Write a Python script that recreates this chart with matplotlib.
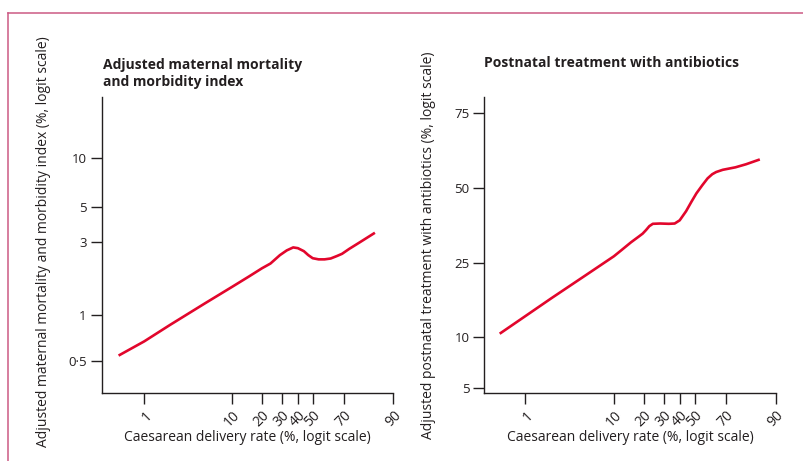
import matplotlib
matplotlib.use("Agg")
import matplotlib.pyplot as plt
from matplotlib.ticker import FixedLocator, NullLocator, FixedFormatter
from matplotlib.lines import Line2D

plt.rcParams['font.family'] = ['Open Sans', 'DejaVu Sans']

# data (percent)
rate_x = [1, 10, 20, 30, 40, 50, 70, 90]
rate_labels = ['1', '10', '20', '30', '40', '50', '70', '90']

mmi_x = [0.5, 1, 2, 5, 10, 15, 20, 24, 29, 33, 37, 40, 44, 47, 50, 54,
         58, 62, 66, 69, 73, 78, 84.5]
mmi_y = [0.54, 0.67, 0.86, 1.19, 1.53, 1.79, 2.02, 2.17, 2.46, 2.64, 2.76,
         2.73, 2.61, 2.46, 2.35, 2.31, 2.31, 2.34, 2.43, 2.51, 2.70, 2.96, 3.43]
mmi_ticks = [0.5, 1, 3, 5, 10]
mmi_labels = ['0\u00b75', '1', '3', '5', '10']

abx_x = [0.5, 1, 2, 5, 10, 12, 15, 18, 19.5, 21, 22.5, 24.2, 28, 33, 36.6,
         39.8, 44, 47.7, 51, 55, 58.5, 61.5, 64, 68, 75, 80, 85.3]
abx_y = [10.5, 13.2, 16.5, 21.8, 26.8, 28.6, 31.0, 32.9, 33.8, 35.0, 36.3,
         37.1, 37.2, 37.1, 37.2, 38.3, 41.5, 45.0, 48.0, 51.0, 53.5, 55.0,
         55.8, 56.6, 57.5, 58.6, 60.3]
abx_ticks = [5, 10, 25, 50, 75]
abx_labels = ['5', '10', '25', '50', '75']

RED = '#E2062C'
INK = '#231F20'
W, H = 804, 461

fig = plt.figure(figsize=(W / 100, H / 100), dpi=100)

# pink frame at top and left
fig.add_artist(Line2D([8 / W, 1], [1 - 13.3 / H] * 2, color='#CC5A84', lw=1.1))
fig.add_artist(Line2D([8.3 / W] * 2, [0, 1 - 13.3 / H], color='#CC5A84', lw=1.1))


def pct(v):
    return [a / 100 for a in v]


def setup(ax, xlim, ylim, yt, ylab, ytitle):
    ax.plot(xlim, ylim, alpha=0)
    ax.set_xscale('logit')
    ax.set_yscale('logit')
    ax.set_xlim(*xlim)
    ax.set_ylim(*ylim)
    for s in ['top', 'right']:
        ax.spines[s].set_visible(False)
    for s in ['left', 'bottom']:
        ax.spines[s].set_linewidth(1.0)
        ax.spines[s].set_color(INK)
    ax.xaxis.set_major_locator(FixedLocator(pct(rate_x)))
    ax.xaxis.set_major_formatter(FixedFormatter(rate_labels))
    ax.xaxis.set_minor_locator(NullLocator())
    ax.yaxis.set_major_locator(FixedLocator(pct(yt)))
    ax.yaxis.set_major_formatter(FixedFormatter(ylab))
    ax.yaxis.set_minor_locator(NullLocator())
    ax.tick_params(direction='out', length=7.8, width=1.0, color=INK,
                   labelcolor=INK, labelsize=9.5, pad=3)
    ax.tick_params(axis='x', labelsize=10)
    for lab in ax.get_xticklabels():
        lab.set_rotation(45)
        lab.set_ha('right')
        lab.set_va('top')
        lab.set_rotation_mode('anchor')
    ax.set_xlabel('Caesarean delivery rate (%, logit scale)', fontsize=10,
                  color=INK)
    ax.xaxis.set_label_coords(0.5, -0.125)
    ax.set_ylabel(ytitle, fontsize=10, color=INK)


ax1 = fig.add_axes([101.7 / W, 1 - 393.3 / H, 291.6 / W, 296.6 / H])
setup(ax1, (0.00316, 0.90), (0.00304, 0.2215), mmi_ticks, mmi_labels,
      'Adjusted maternal mortality and morbidity index (%, logit scale)')
ax1.plot(pct(mmi_x), pct(mmi_y), color=RED, lw=1.9, solid_capstyle='butt')
ax1.yaxis.set_label_coords(-0.175, 0.51)
fig.text(103 / W, 1 - 58 / H, 'Adjusted maternal mortality\nand morbidity index',
         fontsize=10, fontweight='bold', va='top', ha='left', color=INK,
         linespacing=1.3)

ax2 = fig.add_axes([484.3 / W, 1 - 393.3 / H, 291.7 / W, 296.0 / H])
setup(ax2, (0.0033, 0.90), (0.0466, 0.791), abx_ticks, abx_labels,
      'Adjusted postnatal treatment with antibiotics (%, logit scale)')
ax2.plot(pct(abx_x), pct(abx_y), color=RED, lw=1.9, solid_capstyle='butt')
ax2.yaxis.set_label_coords(-0.165, 0.5)
fig.text(484.3 / W, 1 - 56 / H, 'Postnatal treatment with antibiotics',
         fontsize=10, fontweight='bold', va='top', ha='left', color=INK)

fig.savefig('out.png', dpi=100)
